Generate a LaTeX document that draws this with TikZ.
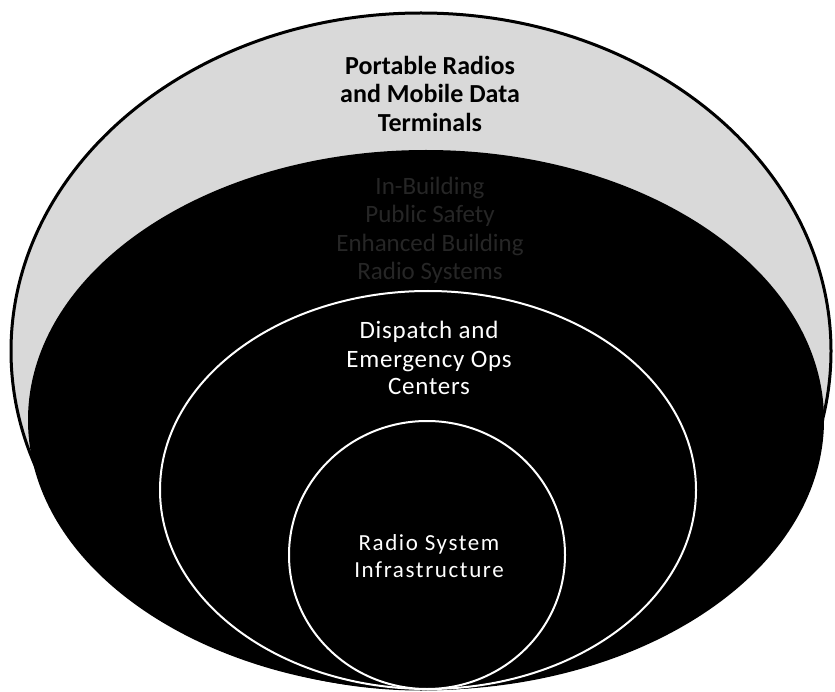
\documentclass[tikz,border=0pt]{standalone}
\usepackage{fontspec}
\setmainfont{Carlito}
\tikzset{
  lbl/.style={anchor=base, inner sep=0pt},
  toptext/.style={lbl, font=\fontsize{26}{28}\selectfont\bfseries, text=black},
  hidtext/.style={lbl, font=\fontsize{25}{27}\selectfont, text=black!85},
  disptext/.style={lbl, font=\fontsize{25}{27}\selectfont\addfontfeatures{LetterSpace=3}, text=white},
  inftext/.style={lbl, font=\fontsize{23}{27}\selectfont\addfontfeatures{LetterSpace=7}, text=white},
}
\begin{document}
\begin{tikzpicture}[x=1pt,y=-1pt]
\useasboundingbox (0,0) rectangle (835,692);
\fill[white] (0,0) rectangle (835,692);
\coordinate (outer) at (421,351);
\coordinate (bldg) at (426,420);
\coordinate (disp) at (428,490);
\coordinate (infra) at (427,555);
\draw[black, line width=3pt, fill=black!15] (outer) ellipse [x radius=410, y radius=338];
\fill[black] (bldg) ellipse [x radius=398, y radius=270];
\draw[white, line width=2pt, fill=black] (disp) ellipse [x radius=268, y radius=199];
\draw[white, line width=2pt, fill=black] (infra) ellipse [x radius=138, y radius=134];
\node[toptext] (p1) at (430,75) {Portable Radios};
\node[toptext] (p2) at (430,103) {and Mobile Data};
\node[toptext] (p3) at (430,132) {Terminals};
\node[hidtext] (b1) at (430,195) {In-Building};
\node[hidtext] (b2) at (430,223) {Public Safety};
\node[hidtext] (b3) at (430,252) {Enhanced Building};
\node[hidtext] (b4) at (430,280) {Radio Systems};
\node[disptext] (d1) at (429,339) {Dispatch and};
\node[disptext] (d2) at (429,367) {Emergency Ops};
\node[disptext] (d3) at (429,395) {Centers};
\node[inftext] (r1) at (429,550) {Radio System};
\node[inftext] (r2) at (429,577) {Infrastructure};
\end{tikzpicture}
\end{document}
